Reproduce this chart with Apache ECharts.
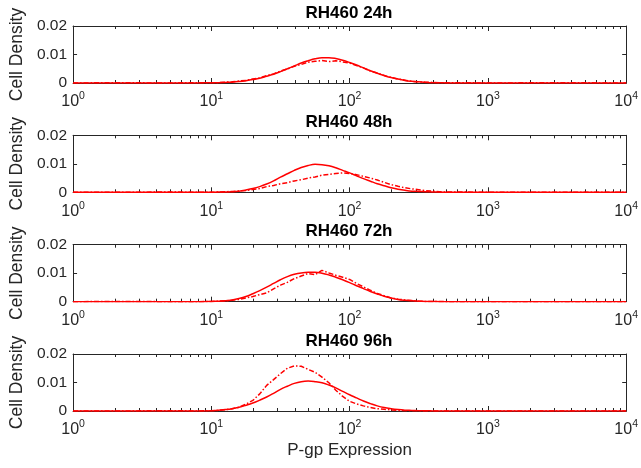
<!DOCTYPE html>
<html>
<head>
<meta charset="utf-8">
<title>RH460 P-gp Expression</title>
<script src="https://cdn.jsdelivr.net/npm/echarts@6/dist/echarts.min.js"></script>
<style>
  html, body { margin: 0; padding: 0; background: #ffffff; }
  #chart { width: 641px; height: 468px; }
</style>
</head>
<body>
<div id="chart"></div>
<script>
// P-gp expression grid (log scale), shared by every curve
const expression = [1, 2, 5, 8, 10, 11.22, 12.59, 14.13, 15.85, 17.78, 19.95, 22.39, 25.12, 28.18,
  31.62, 35.48, 39.81, 44.67, 50.12, 56.23, 63.10, 70.79, 79.43, 89.13, 100, 112.2, 125.9, 141.3,
  158.5, 177.8, 199.5, 223.9, 251.2, 281.8, 316.2, 354.8, 398.1, 446.7, 501.2, 631, 1000, 3000, 10000];

// Fitted densities (solid) and measured densities (dash-dot) per time point
const fit24 = [0, 0, 0, 0, 0.0001, 0.0001, 0.0002, 0.0003, 0.0005, 0.0008, 0.0012, 0.0017, 0.0024, 0.0031,
  0.0040, 0.0050, 0.0060, 0.0070, 0.0078, 0.0085, 0.0089, 0.0089, 0.0086, 0.0080, 0.0072, 0.0063, 0.0053,
  0.0043, 0.0034, 0.0026, 0.0019, 0.0014, 0.0009, 0.0006, 0.0004, 0.0002, 0.0001, 0.0001, 0, 0, 0, 0, 0];
const measured24 = [0, 0.0001, 0, 0.0001, 0.0001, 0.0001, 0.0003, 0.0004, 0.0007, 0.0009, 0.0014, 0.0018,
  0.0026, 0.0032, 0.0042, 0.0049, 0.0059, 0.0065, 0.0073, 0.0076, 0.0079, 0.0075, 0.0078, 0.0074, 0.0070,
  0.0061, 0.0053, 0.0042, 0.0035, 0.0026, 0.0020, 0.0014, 0.0010, 0.0006, 0.0004, 0.0003, 0.0002, 0.0001,
  0.0001, 0.0001, 0, 0.0001, 0];

const fit48 = [0, 0, 0, 0, 0, 0.0001, 0.0001, 0.0002, 0.0004, 0.0008, 0.0013, 0.0020, 0.0029, 0.0040,
  0.0053, 0.0065, 0.0077, 0.0087, 0.0094, 0.0098, 0.0097, 0.0093, 0.0086, 0.0077, 0.0068, 0.0058, 0.0048,
  0.0039, 0.0030, 0.0023, 0.0016, 0.0011, 0.0007, 0.0004, 0.0003, 0.0002, 0.0001, 0.0001, 0, 0, 0, 0, 0];
const measured48 = [0, 0, 0.0001, 0, 0, 0.0001, 0.0002, 0.0003, 0.0005, 0.0006, 0.0010, 0.0013, 0.0020,
  0.0024, 0.0030, 0.0034, 0.0040, 0.0044, 0.0050, 0.0054, 0.0060, 0.0063, 0.0066, 0.0068, 0.0066, 0.0062,
  0.0056, 0.0050, 0.0043, 0.0035, 0.0027, 0.0021, 0.0016, 0.0012, 0.0009, 0.0006, 0.0004, 0.0002, 0.0001,
  0.0001, 0, 0, 0];

const fit72 = [0, 0, 0, 0, 0.0001, 0.0002, 0.0003, 0.0006, 0.0011, 0.0018, 0.0028, 0.0039, 0.0051, 0.0064,
  0.0077, 0.0088, 0.0096, 0.0101, 0.0103, 0.0103, 0.0100, 0.0094, 0.0086, 0.0077, 0.0067, 0.0056, 0.0046,
  0.0036, 0.0027, 0.0019, 0.0013, 0.0008, 0.0005, 0.0003, 0.0002, 0.0001, 0.0001, 0, 0, 0, 0, 0, 0];
const measured72 = [0, 0.0001, 0, 0, 0.0001, 0.0002, 0.0003, 0.0005, 0.0008, 0.0013, 0.0018, 0.0025, 0.0031,
  0.0045, 0.0058, 0.0068, 0.0081, 0.0090, 0.0099, 0.0095, 0.0110, 0.0101, 0.0093, 0.0086, 0.0078, 0.0064,
  0.0052, 0.0040, 0.0029, 0.0021, 0.0013, 0.0009, 0.0006, 0.0004, 0.0002, 0.0001, 0.0001, 0.0001, 0, 0, 0,
  0, 0];

const fit96 = [0, 0, 0, 0, 0.0001, 0.0003, 0.0005, 0.0008, 0.0013, 0.0020, 0.0028, 0.0038, 0.0049, 0.0062,
  0.0076, 0.0087, 0.0097, 0.0103, 0.0105, 0.0103, 0.0099, 0.0091, 0.0081, 0.0069, 0.0057, 0.0046, 0.0035,
  0.0026, 0.0018, 0.0012, 0.0008, 0.0005, 0.0003, 0.0002, 0.0001, 0.0001, 0, 0, 0, 0, 0, 0, 0];
const measured96 = [0, 0, 0.0001, 0, 0.0001, 0.0002, 0.0004, 0.0008, 0.0013, 0.0024, 0.0037, 0.0060, 0.0090,
  0.0110, 0.0131, 0.0150, 0.0158, 0.0157, 0.0146, 0.0136, 0.0119, 0.0099, 0.0073, 0.0051, 0.0034, 0.0025,
  0.0018, 0.0012, 0.0008, 0.0006, 0.0004, 0.0002, 0.0001, 0.0001, 0.0001, 0, 0, 0, 0, 0, 0, 0, 0];

const panelTitles = ['RH460 24h', 'RH460 48h', 'RH460 72h', 'RH460 96h'];
const fitSeries = [fit24, fit48, fit72, fit96];
const measuredSeries = [measured24, measured48, measured72, measured96];

// Minor tick positions of the log axis (2..9 in each decade)
const minorTickValues = [2, 3, 4, 5, 6, 7, 8, 9, 20, 30, 40, 50, 60, 70, 80, 90,
  200, 300, 400, 500, 600, 700, 800, 900, 2000, 3000, 4000, 5000, 6000, 7000, 8000, 9000];

const densityMax = 0.02;
const AXIS = '#262626';
const FONT = '"Liberation Sans", Arial, Helvetica, sans-serif';
const RED = '#ff0000';

const panelTops = [26, 135.3, 244.7, 354];
const panelHeight = 57;

const pairs = (ys) => expression.map((x, i) => [x, ys[i]]);

const grid = [], xAxis = [], yAxis = [], series = [], title = [];

const boxLine = { show: true, onZero: false, lineStyle: { color: AXIS, width: 1 } };

panelTops.forEach((top, i) => {
  grid.push({ left: 69, right: 12, top: top, height: panelHeight, containLabel: false });

  title.push({
    text: panelTitles[i], left: 349, top: top - 23, textAlign: 'center', padding: 0,
    textStyle: { fontFamily: FONT, fontSize: 17, fontWeight: 'bold', color: '#000', lineHeight: 20 }
  });

  const last = i === panelTops.length - 1;
  // bottom log axis with 10^n labels
  xAxis.push({
    type: 'log', logBase: 10, min: 1, max: 10000, gridIndex: i, position: 'bottom',
    axisLine: boxLine,
    axisTick: { show: true, inside: true, length: 5, lineStyle: { color: AXIS } },
    splitLine: { show: false },
    axisLabel: {
      margin: 8, color: AXIS, fontFamily: FONT,
      formatter: (v) => '{b|10}{e|' + Math.round(Math.log10(v)) + '}',
      rich: {
        b: { fontSize: 16, lineHeight: 22, color: AXIS, fontFamily: FONT },
        e: { fontSize: 10.5, lineHeight: 12, verticalAlign: 'top', color: AXIS, fontFamily: FONT }
      }
    },
    name: last ? 'P-gp Expression' : '', nameLocation: 'middle', nameGap: 31,
    nameTextStyle: { fontFamily: FONT, fontSize: 17, color: AXIS }
  });
  // top edge of the box
  xAxis.push({
    type: 'log', logBase: 10, min: 1, max: 10000, gridIndex: i, position: 'top',
    axisLine: boxLine,
    axisTick: { show: true, inside: true, length: 5, lineStyle: { color: AXIS } },
    axisLabel: { show: false }, splitLine: { show: false }
  });
  yAxis.push({
    type: 'value', min: 0, max: densityMax, interval: 0.01, gridIndex: i, position: 'left',
    axisLine: boxLine,
    axisTick: { show: true, inside: true, length: 4, lineStyle: { color: AXIS } },
    splitLine: { show: false },
    axisLabel: { margin: 6, color: AXIS, fontFamily: FONT, fontSize: 15.5 },
    name: 'Cell Density', nameLocation: 'middle', nameGap: 38,
    nameTextStyle: { fontFamily: FONT, fontSize: 17.5, color: AXIS }
  });
  // right edge of the box
  yAxis.push({
    type: 'value', min: 0, max: densityMax, interval: 0.01, gridIndex: i, position: 'right',
    axisLine: boxLine,
    axisTick: { show: true, inside: true, length: 4, lineStyle: { color: AXIS } },
    axisLabel: { show: false }, splitLine: { show: false }
  });

  const xi = i * 2, yi = i * 2;

  // minor log ticks on bottom and top edges
  series.push({
    type: 'custom', xAxisIndex: xi, yAxisIndex: yi, silent: true, z: 1,
    data: minorTickValues.map((v) => [v, 0]),
    renderItem: (params, api) => {
      const v = api.value(0);
      const b = api.coord([v, 0]);
      const t = api.coord([v, densityMax]);
      const x = Math.round(b[0]) + 0.5;
      const st = { stroke: AXIS, lineWidth: 1 };
      return {
        type: 'group', children: [
          { type: 'line', shape: { x1: x, y1: b[1], x2: x, y2: b[1] - 3 }, style: st },
          { type: 'line', shape: { x1: x, y1: t[1], x2: x, y2: t[1] + 3 }, style: st }
        ]
      };
    }
  });

  series.push({
    type: 'line', xAxisIndex: xi, yAxisIndex: yi, data: pairs(measuredSeries[i]),
    symbol: 'none', z: 3, silent: true,
    lineStyle: { color: RED, width: 1.5, type: [5, 2, 1.5, 2] }
  });
  series.push({
    type: 'line', xAxisIndex: xi, yAxisIndex: yi, data: pairs(fitSeries[i]),
    symbol: 'none', smooth: 0.4, z: 4, silent: true,
    lineStyle: { color: RED, width: 1.5, type: 'solid' }
  });
});

const chart = echarts.init(document.getElementById('chart'), null, { renderer: 'canvas' });
chart.setOption({
  backgroundColor: '#ffffff',
  animation: false,
  title, grid, xAxis, yAxis, series
});
</script>
</body>
</html>
